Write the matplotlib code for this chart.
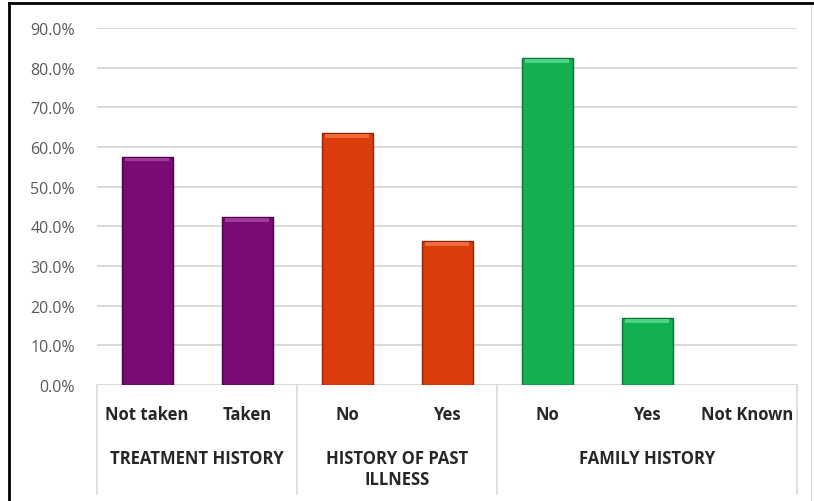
import matplotlib.pyplot as plt
from matplotlib.lines import Line2D
import numpy as np

plt.rcParams['font.family'] = ['Open Sans', 'DejaVu Sans']

categories = ["Not taken", "Taken", "No", "Yes", "No", "Yes", "Not Known"]
values = [57.6, 42.4, 63.6, 36.4, 82.5, 17.0, 0.0]
groups = ["TREATMENT HISTORY", "HISTORY OF PAST\nILLNESS", "FAMILY HISTORY"]
group_sizes = [2, 2, 3]
group_colors = ["#7A0A74", "#DA3D0B", "#13B052"]
group_edges = ["#4A0446", "#8E2405", "#0B7035"]
group_tops = ["#A03A9A", "#F06A3A", "#4CD482"]
yticks = [0, 10, 20, 30, 40, 50, 60, 70, 80, 90]

bar_colors, edge_colors, top_colors = [], [], []
for size, c, e, t in zip(group_sizes, group_colors, group_edges, group_tops):
    bar_colors += [c] * size
    edge_colors += [e] * size
    top_colors += [t] * size

fig = plt.figure(figsize=(8.14, 5.02), dpi=100)
ax = fig.add_axes([97 / 814, 116 / 502, 700 / 814, 357 / 502])

x = np.arange(len(categories))
shown = [v > 0 for v in values]
ax.bar(x[shown], np.array(values)[shown], width=0.51,
       color=np.array(bar_colors)[shown], edgecolor=np.array(edge_colors)[shown],
       linewidth=1.0, zorder=3)
# lighter cap along the top of each bar for the bevel look
cap = 1.0
for xi, v, t in zip(x, values, top_colors):
    if v > cap:
        ax.bar(xi, cap, bottom=v - cap - 0.25, width=0.44, color=t,
               linewidth=0, zorder=4)

ax.set_xlim(-0.5, len(categories) - 0.5)
ax.set_ylim(0, 90)
ax.set_yticks(yticks)
ax.set_yticklabels([f"{t:.1f}%" for t in yticks], fontsize=11.5, color="#595959")
ax.tick_params(axis="y", length=0, pad=16)
ax.set_xticks([])
ax.yaxis.grid(True, color="#D9D9D9", linewidth=1.4, zorder=0)
ax.set_axisbelow(True)
for side in ["top", "right", "left", "bottom"]:
    ax.spines[side].set_visible(False)
ax.axhline(0, color="#D9D9D9", linewidth=1.2, zorder=2)

trans = ax.get_xaxis_transform()
for xi, label in zip(x, categories):
    ax.text(xi, -0.081, label, transform=trans, ha="center", va="center",
            fontsize=12, fontweight="bold", color="#262626")

# group labels and separators under the axis
edges = np.concatenate([[0], np.cumsum(group_sizes)]) - 0.5
for i, g in enumerate(groups):
    mid = (edges[i] + edges[i + 1]) / 2
    ax.text(mid, -0.178, g, transform=trans, ha="center", va="top",
            fontsize=12, fontweight="bold", color="#262626", linespacing=1.25)
for e in edges:
    ax.plot([e, e], [0, -0.305], transform=trans, color="#D9D9D9",
            linewidth=1.2, clip_on=False)

# chart frame
fig.add_artist(Line2D([9 / 814, 9 / 814], [0, 1 - 4 / 502], color="black",
                      linewidth=2, transform=fig.transFigure))
fig.add_artist(Line2D([9 / 814, 1], [1 - 4 / 502, 1 - 4 / 502], color="black",
                      linewidth=2, transform=fig.transFigure))
fig.add_artist(Line2D([811 / 814, 811 / 814], [0, 1 - 6 / 502], color="#D9D9D9",
                      linewidth=1, transform=fig.transFigure))

fig.savefig("out.png", dpi=100)
